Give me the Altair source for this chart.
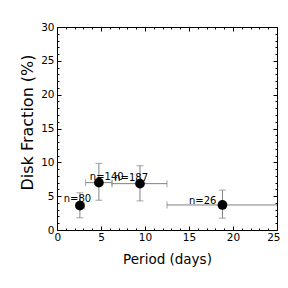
import altair as alt
import pandas as pd

# data
period = [2.6, 4.76, 9.43, 18.8]
frac = [3.6, 7.0, 6.85, 3.7]
frac_lo = [1.8, 4.4, 4.3, 1.75]
frac_hi = [5.5, 9.85, 9.5, 5.9]
per_lo = [2.2, 3.25, 6.25, 12.5]
per_hi = [3.1, 6.25, 12.5, 30.0]
labels = ["n=80", "n=140", "n=187", "n=26"]
label_x = [0.76, 3.73, 6.5, 15.0]
label_y = [4.14, 7.39, 7.24, 3.91]

x_major = [0, 5, 10, 15, 20, 25]
x_minor = [v for v in range(0, 26) if v % 5 != 0]
y_major = [0, 5, 10, 15, 20, 25, 30]
y_minor = [v for v in range(0, 31) if v % 5 != 0]

df = pd.DataFrame(dict(period=period, frac=frac, frac_lo=frac_lo, frac_hi=frac_hi,
                       per_lo=per_lo, per_hi=per_hi))
lab = pd.DataFrame(dict(label=labels, lx=label_x, ly=label_y))
ycaps = pd.DataFrame(dict(period=period * 2, yc=frac_lo + frac_hi))
xcaps = pd.DataFrame(dict(frac=frac * 2, xc=per_lo + per_hi))

FONT = "DejaVu Sans"
xs = alt.Scale(domain=[0, 25], nice=False)
ys = alt.Scale(domain=[0, 30], nice=False)


def ax(orient, values, size, labels=False, title=None, lp=2, tp=4, tfs=15, flush=False, extra=None):
    kw = dict(orient=orient, values=values, tickSize=size, offset=-size, domain=False,
              grid=False, tickColor="black", labels=labels, tickWidth=1)
    if labels:
        kw.update(labelFont=FONT, labelFontSize=10.5, labelColor="black", labelPadding=lp,
                  labelFlush=flush, labelOverlap=False)
        if flush:
            kw.update(labelFlushOffset=3)
    if title:
        kw.update(title=title, titleFont=FONT, titleFontSize=tfs, titleFontWeight="normal",
                  titleColor="black", titlePadding=tp)
    else:
        kw.update(title=None)
    if extra:
        kw.update(extra)
    return alt.Axis(**kw)


ERR = "#808080"

xerr = alt.Chart(df).mark_rule(color=ERR, strokeWidth=1, clip=True).encode(
    x=alt.X("per_lo:Q", scale=xs,
            axis=ax("bottom", x_major, 4, True, "Period (days)", 2, 10, 13.5, True)),
    x2="per_hi:Q",
    y=alt.Y("frac:Q", scale=ys,
            axis=ax("left", y_major, 4, True, "Disk Fraction (%)", 3, 5, 16, False, {"titleY": 95})),
)
yerr = alt.Chart(df).mark_rule(color=ERR, strokeWidth=1, clip=True).encode(
    x=alt.X("period:Q", scale=xs, axis=ax("bottom", x_minor, 2)),
    y=alt.Y("frac_lo:Q", scale=ys, axis=ax("left", y_minor, 2)),
    y2="frac_hi:Q",
)
ycap = alt.Chart(ycaps).mark_tick(color=ERR, orient="horizontal", size=7, thickness=1, clip=True).encode(
    x=alt.X("period:Q", scale=xs, axis=ax("top", x_major, 4)),
    y=alt.Y("yc:Q", scale=ys, axis=ax("right", y_major, 4)),
)
xcap = alt.Chart(xcaps).mark_tick(color=ERR, orient="vertical", size=7, thickness=1, clip=True).encode(
    x=alt.X("xc:Q", scale=xs, axis=ax("top", x_minor, 2)),
    y=alt.Y("frac:Q", scale=ys, axis=ax("right", y_minor, 2)),
)
pts = alt.Chart(df).mark_circle(color="black", opacity=1, size=95).encode(
    x=alt.X("period:Q", scale=xs, axis=None),
    y=alt.Y("frac:Q", scale=ys, axis=None),
)
txt = alt.Chart(lab).mark_text(align="left", baseline="alphabetic", font=FONT, fontSize=10,
                               color="black").encode(
    x=alt.X("lx:Q", scale=xs, axis=None),
    y=alt.Y("ly:Q", scale=ys, axis=None),
    text="label:N",
)

chart = alt.layer(xerr, yerr, ycap, xcap, pts, txt).resolve_axis(
    x="independent", y="independent"
).properties(
    width=220, height=203,
    autosize=alt.AutoSizeParams(type="none"),
    padding={"left": 49, "top": 19, "right": 3, "bottom": 49},
    background="white",
).configure_view(stroke="black", strokeWidth=1)

chart.save("out.html", embed_options={"renderer": "svg", "actions": False})
